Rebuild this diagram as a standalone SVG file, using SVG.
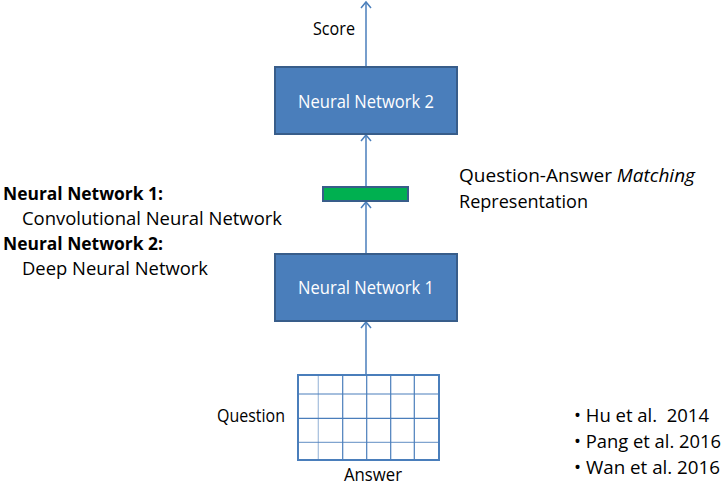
<svg xmlns="http://www.w3.org/2000/svg" width="727" height="492" viewBox="0 0 727 492">
<defs>
<marker id="arr" markerWidth="12" markerHeight="12" refX="8" refY="6" orient="auto" markerUnits="userSpaceOnUse" viewBox="0 0 12 12">
<path d="M2,1 L8,6 L2,11" fill="none" stroke="#4a7ebb" stroke-width="1.5"/>
</marker>
</defs>
<style>
text{font-family:"Open Sans","Liberation Sans",Arial,sans-serif;font-size:17.5px;fill:#000}
.w{fill:#fff}
.b{font-weight:bold}
.box{fill:#4a7ebb;stroke:#385d8a;stroke-width:2}
.con{stroke:#4a7ebb;stroke-width:1.5;fill:none}
.g{stroke:#4a7ebb;stroke-width:1.2}
</style>
<rect width="727" height="492" fill="#fff"/>
<g id="connectors">
<line class="con" x1="366" y1="375" x2="366" y2="322" marker-end="url(#arr)"/>
<line class="con" x1="366" y1="254" x2="366" y2="202" marker-end="url(#arr)"/>
<line class="con" x1="366" y1="187" x2="366" y2="135" marker-end="url(#arr)"/>
<line class="con" x1="366" y1="67" x2="366" y2="2" marker-end="url(#arr)"/>
</g>
<g id="nn2">
<rect class="box" x="275" y="67" width="182" height="67"/>
<text class="w" x="366" y="108" text-anchor="middle" textLength="136" lengthAdjust="spacingAndGlyphs">Neural Network 2</text>
</g>
<g id="score">
<text x="313" y="35" textLength="42" lengthAdjust="spacingAndGlyphs">Score</text>
</g>
<g id="matching">
<rect x="323" y="187" width="85" height="14" fill="#00b050" stroke="#385d8a" stroke-width="2"/>
</g>
<g id="nn1">
<rect class="box" x="275" y="254" width="182" height="67"/>
<text class="w" x="366" y="294" text-anchor="middle" textLength="136" lengthAdjust="spacingAndGlyphs">Neural Network 1</text>
</g>
<g id="grid">
<rect x="298" y="375" width="141" height="85" fill="#fff" stroke="#4a7ebb" stroke-width="2"/>
<line class="g" x1="318.3" y1="375" x2="318.3" y2="460" stroke-opacity="0.5"/>
<line class="g" x1="342.7" y1="375" x2="342.7" y2="460"/>
<line class="g" x1="366.7" y1="375" x2="366.7" y2="460"/>
<line class="g" x1="390.7" y1="375" x2="390.7" y2="460"/>
<line class="g" x1="414.3" y1="375" x2="414.3" y2="460"/>
<line class="g" x1="298" y1="394" x2="439" y2="394"/>
<line class="g" x1="298" y1="418.3" x2="439" y2="418.3"/>
<line class="g" x1="298" y1="442.3" x2="439" y2="442.3" stroke-opacity="0.7"/>
<text x="217" y="422" textLength="68" lengthAdjust="spacingAndGlyphs">Question</text>
<text x="344" y="481" textLength="58" lengthAdjust="spacingAndGlyphs">Answer</text>
</g>
<g id="legend">
<text class="b" x="3" y="200" textLength="160" lengthAdjust="spacingAndGlyphs">Neural Network 1:</text>
<text x="22" y="225" textLength="260" lengthAdjust="spacingAndGlyphs">Convolutional Neural Network</text>
<text class="b" x="3" y="250" textLength="160" lengthAdjust="spacingAndGlyphs">Neural Network 2:</text>
<text x="22" y="275" textLength="186" lengthAdjust="spacingAndGlyphs">Deep Neural Network</text>
</g>
<g id="qa-label">
<text x="459" y="182" textLength="236" lengthAdjust="spacingAndGlyphs">Question-Answer <tspan font-style="italic">Matching</tspan></text>
<text x="459" y="208" textLength="129" lengthAdjust="spacingAndGlyphs">Representation</text>
</g>
<g id="refs">
<text x="574" y="422" textLength="135" lengthAdjust="spacingAndGlyphs" xml:space="preserve">• Hu et al.  2014</text>
<text x="574" y="448" textLength="147" lengthAdjust="spacingAndGlyphs">• Pang et al. 2016</text>
<text x="574" y="474" textLength="146" lengthAdjust="spacingAndGlyphs">• Wan et al. 2016</text>
</g>
</svg>
